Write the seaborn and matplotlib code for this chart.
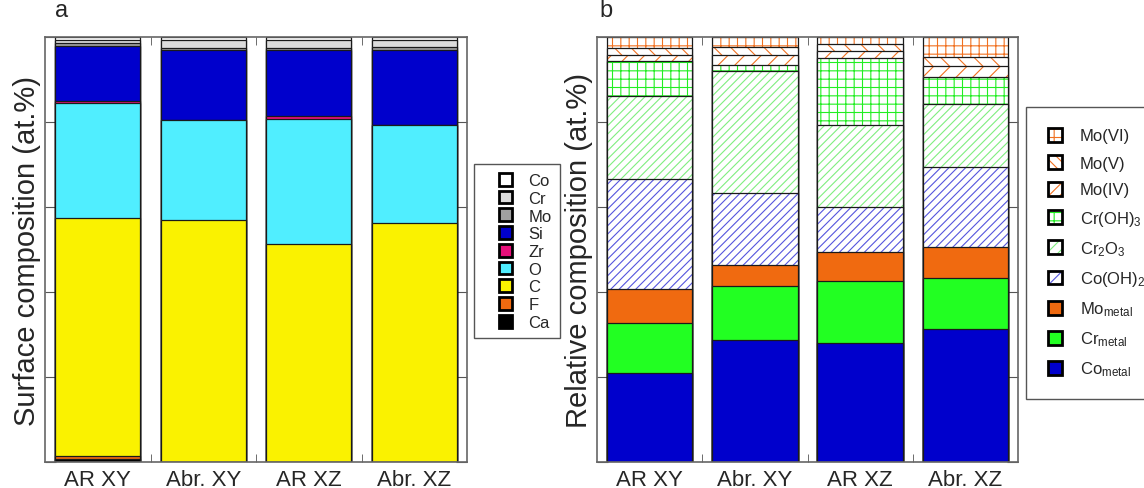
import numpy as np
import pandas as pd
import seaborn as sns
import matplotlib.pyplot as plt
from matplotlib.patches import Patch, Rectangle
from matplotlib.legend_handler import HandlerBase

sns.set_style("ticks")
plt.rcParams["font.family"] = ["Liberation Sans", "DejaVu Sans"]
plt.rcParams["mathtext.default"] = "regular"
plt.rcParams["hatch.linewidth"] = 0.8

samples = ["AR XY", "Abr. XY", "AR XZ", "Abr. XZ"]

# ---- panel a: surface composition (at.%), layers bottom -> top ----
ca = [0.6, 0.0, 0.0, 0.0]
f = [0.8, 0.0, 0.0, 0.0]
c = [56.0, 57.0, 51.2, 56.2]
o = [27.0, 23.5, 29.5, 23.1]
zr = [0.5, 0.0, 0.6, 0.0]
si = [13.1, 16.4, 15.7, 17.6]
mo = [0.5, 0.5, 0.4, 0.7]
cr = [0.9, 2.0, 2.0, 1.8]
co = [0.6, 0.6, 0.6, 0.6]

elements_a = ["Ca", "F", "C", "O", "Zr", "Si", "Mo", "Cr", "Co"]
colors_a = ["#000000", "#F06A10", "#FAF200", "#50EEFF", "#E8107A",
            "#0000CC", "#A0A0A0", "#DCDCDC", "#FFFFFF"]

# ---- panel b: relative composition (at.%), layers bottom -> top ----
co_metal = [20.9, 28.8, 28.0, 31.3]
cr_metal = [11.8, 12.6, 14.6, 12.1]
mo_metal = [8.0, 5.0, 6.8, 7.3]
co_oh2 = [25.8, 17.0, 10.6, 18.6]
cr2o3 = [19.7, 28.6, 19.2, 14.9]
cr_oh3 = [8.1, 1.5, 15.8, 6.4]
mo_iv = [1.5, 2.2, 1.6, 2.5]
mo_v = [1.6, 1.9, 1.7, 2.2]
mo_vi = [2.6, 2.4, 1.7, 4.7]

species_b = [r"Co$_{metal}$", r"Cr$_{metal}$", r"Mo$_{metal}$", r"Co(OH)$_2$",
             r"Cr$_2$O$_3$", r"Cr(OH)$_3$", "Mo(IV)", "Mo(V)", "Mo(VI)"]
fills_b = ["#0000CC", "#22FF22", "#F06A10", "white", "white", "white",
           "white", "white", "white"]
hatch_b = [None, None, None, "////", "////", "++", "//", "\\\\", "++"]
key_hatch_b = [None, None, None, "///", "///", "++", "///", "\\\\\\", "++"]
hatch_col_b = [None, None, None, "#5555DD", "#80EE80", "#22EE22",
               "#F07020", "#F07020", "#F07020"]

df_a = pd.DataFrame(dict(zip(elements_a, [ca, f, c, o, zr, si, mo, cr, co])))
df_a["sample"] = samples
df_b = pd.DataFrame(dict(zip(species_b, [co_metal, cr_metal, mo_metal, co_oh2, cr2o3,
                                         cr_oh3, mo_iv, mo_v, mo_vi])))
df_b["sample"] = samples

W = 0.81
EDGE = "#1a1a1a"


def stacked(ax, df, layers, fills, hatches=None, hatch_cols=None):
    cum = df[layers].cumsum(axis=1)
    cum["sample"] = df["sample"]
    # draw from the top layer down, each opaque bar covers the ones below
    for i in reversed(range(len(layers))):
        name = layers[i]
        if hatches is not None and hatches[i] is not None:
            sns.barplot(data=cum, x="sample", y=name, order=samples, color="white",
                        saturation=1, width=W, errorbar=None, linewidth=0,
                        edgecolor=hatch_cols[i], hatch=hatches[i], ax=ax)
        else:
            sns.barplot(data=cum, x="sample", y=name, order=samples, color=fills[i],
                        saturation=1, width=W, errorbar=None, linewidth=0, ax=ax)
        sns.barplot(data=cum, x="sample", y=name, order=samples, color=EDGE,
                    fill=False, width=W, errorbar=None, linewidth=0.9, ax=ax)


def style(ax, ylabel):
    ax.set_xlim(-0.5, 3.5)
    ax.set_ylim(0, 100)
    ax.set_xticks(range(4))
    ax.set_xticklabels(samples, fontsize=16)
    ax.tick_params(axis="x", which="major", length=0, pad=5)
    ax.set_xticks([0.5, 1.5, 2.5], minor=True)
    ax.tick_params(axis="x", which="minor", direction="in", length=6,
                   top=True, bottom=True, color="#555")
    ax.set_yticks(range(0, 101, 20))
    ax.tick_params(axis="y", direction="in", length=8, left=True, right=True,
                   labelleft=False, color="#555")
    ax.set_xlabel("")
    ax.set_ylabel(ylabel, fontsize=21, labelpad=3)
    for s in ax.spines.values():
        s.set_color("#666")
        s.set_linewidth(1.2)


class SquareKey(HandlerBase):
    """small square key with a thick black frame, pushed to the right of the handle box"""

    def __init__(self, side=10.8, right_pad=4.8):
        super().__init__()
        self.side = side
        self.right_pad = right_pad

    def create_artists(self, legend, orig, xdescent, ydescent, width, height,
                       fontsize, trans):
        s = self.side
        x0 = -xdescent + width - s - self.right_pad
        y0 = -ydescent + (height - s) / 2
        if orig.get_hatch():
            inner = Rectangle((x0, y0), s, s, facecolor="white",
                              edgecolor=orig.get_edgecolor(), hatch=orig.get_hatch(),
                              linewidth=0, transform=trans)
            frame = Rectangle((x0, y0), s, s, fill=False, edgecolor="black",
                              linewidth=2, transform=trans)
            return [inner, frame]
        box = Rectangle((x0, y0), s, s, facecolor=orig.get_facecolor(),
                        edgecolor="black", linewidth=2, transform=trans)
        return [box]


fig = plt.figure(figsize=(11.44, 4.89), dpi=100)
ax_a = fig.add_axes([45 / 1144, 1 - 463 / 489, 422 / 1144, 425 / 489])
ax_b = fig.add_axes([597 / 1144, 1 - 463 / 489, 421 / 1144, 425 / 489])

stacked(ax_a, df_a, elements_a, colors_a)
style(ax_a, "Surface composition (at.%)")

stacked(ax_b, df_b, species_b, fills_b, hatch_b, hatch_col_b)
style(ax_b, "Relative composition (at.%)")

fig.text(55 / 1144, 1 - 11 / 489, "a", fontsize=17, va="center")
fig.text(599 / 1144, 1 - 11 / 489, "b", fontsize=17, va="center")

# legend a (top -> bottom order)
hand_a = [Patch(facecolor=colors_a[i]) for i in reversed(range(len(elements_a)))]
fig.legend(hand_a, elements_a[::-1], loc="upper left",
           bbox_to_anchor=(474 / 1144, 1 - 165 / 489), fontsize=12,
           handler_map={Patch: SquareKey(side=9.3, right_pad=5.5)},
           handlelength=2.25, handleheight=0.9, labelspacing=0.125, handletextpad=0.5,
           borderpad=0.5, borderaxespad=0, frameon=True, fancybox=False,
           edgecolor="#555", framealpha=1)

# legend b
hand_b = []
for i in reversed(range(len(species_b))):
    if key_hatch_b[i] is None:
        hand_b.append(Patch(facecolor=fills_b[i]))
    else:
        hand_b.append(Patch(facecolor="white", edgecolor=hatch_col_b[i],
                            hatch=key_hatch_b[i]))
fig.legend(hand_b, species_b[::-1], loc="upper left",
           bbox_to_anchor=(1026 / 1144, 1 - 108 / 489), fontsize=12,
           handler_map={Patch: SquareKey(side=10.0, right_pad=5.2)},
           handlelength=1.36, handleheight=0.9, labelspacing=0.68,
           handletextpad=0.62, borderpad=1.25, borderaxespad=0, frameon=True,
           fancybox=False, edgecolor="#555", framealpha=1)

fig.savefig("out.png", dpi=100)
